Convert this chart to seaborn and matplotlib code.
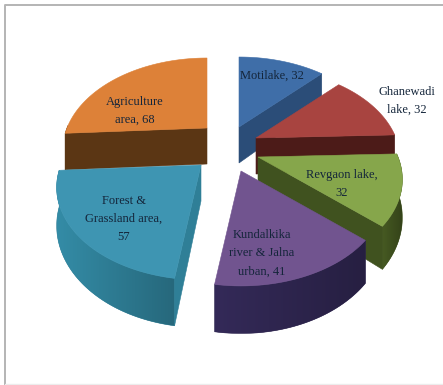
import numpy as np
import matplotlib
matplotlib.use("Agg")
import matplotlib.pyplot as plt
from matplotlib.colors import to_rgb
from matplotlib.patches import Polygon
import seaborn as sns

# Land-use classes and their values, clockwise from twelve o'clock
categories = ["Motilake", "Ghanewadi\nlake", "Revgaon lake,\n", "Kundalkika\nriver & Jalna\nurban",
              "Forest &\nGrassland area,\n", "Agriculture\narea"]
values = [32, 32, 32, 41, 57, 68]
top_colors = ["#3f6ea8", "#a84440", "#86a64b", "#71548f", "#3e95b2", "#dd8138"]
wall_colors = ["#2b4d78", "#4c1b18", "#40521f", "#2f2650", "#2f7f97", "#5b3614"]

# Pie geometry, in pixels of the 443x385 canvas
CENTER = (230.0, 150.0)
RX, RY = 140.0, 87.0        # radii on the horizontal through the centre
TILT = 0.243                # perspective strength: far edge shrinks, near edge grows
DEPTH = 36.0                # extrusion at the centre line
PULL = [(9, -23), (26, -12), (28, 7), (11, 21), (-29, 15), (-23, -22)]  # slice explosion
LABEL_XY = [(272, 76), (407, 101), (342, 184), (262, 253), (124, 219), (135, 111)]
PAINT_ORDER = [5, 0, 1, 2, 4, 3]

sns.set_theme(style="white", rc={"font.family": ["Liberation Serif", "DejaVu Serif"]})
fig, ax = plt.subplots(figsize=(4.43, 3.85), dpi=100)
ax.set_position([0, 0, 1, 1])
ax.axis("off")
sns.despine(ax=ax, left=True, bottom=True)

# Chart-area frame: darker on the top and left, almost gone at the bottom
ax.plot([5, 5, 443], [385, 5, 5], color="#b4b4b4", lw=1.4, solid_capstyle="butt")
ax.plot([5, 443], [383.5, 383.5], color="#ececec", lw=1.0)


def project(theta, apex):
    """Map an angle on the unit circle to canvas pixels, with perspective."""
    u, v = np.cos(theta), np.sin(theta)
    s = 1.0 / (1.0 + TILT * v)
    return apex[0] + RX * u * s, apex[1] - RY * v * s


def wall_drop(theta):
    return DEPTH / (1.0 + TILT * np.sin(theta))


def cut_is_visible(apex, edge, inner):
    """A radial face shows when the extrusion points away from the slice interior."""
    ex, ey = edge[0] - apex[0], edge[1] - apex[1]
    mx, my = inner[0] - apex[0], inner[1] - apex[1]
    return (ex * my - ey * mx) * ex < 0


total = sum(values)
edges = np.deg2rad(90.0 - 360.0 * np.cumsum([0] + values) / total)

for i in PAINT_ORDER:
    z = 2 + PAINT_ORDER.index(i)
    mid = (edges[i] + edges[i + 1]) / 2
    apex = (CENTER[0] + PULL[i][0], CENTER[1] + PULL[i][1])
    arc = np.linspace(edges[i], edges[i + 1], 90)
    px, py = project(arc, apex)
    drops = wall_drop(arc)
    wall = wall_colors[i]
    inner = project(mid, apex)

    # Radial cut faces that turn toward the viewer
    for k in (0, -1):
        if cut_is_visible(apex, (px[k], py[k]), inner):
            ax.add_patch(Polygon([apex, (px[k], py[k]), (px[k], py[k] + drops[k]),
                                  (apex[0], apex[1] + wall_drop(0.0))],
                                 closed=True, fc=wall, ec=wall, lw=0.4, zorder=z + 0.1))

    # Outer rim on the near half only, with a soft left-to-right shading
    near = np.sin(arc) < 0.04
    if near.sum() > 1:
        rx, ry, rd = px[near], py[near], drops[near]
        rim_pts = list(zip(rx, ry)) + list(zip(rx[::-1], (ry + rd)[::-1]))
        rim = Polygon(rim_pts, closed=True, fc=wall, ec=wall, lw=0.4, zorder=z)
        ax.add_patch(rim)
        ramp = np.linspace(1.10, 0.82, 64)[None, :, None] * np.array(to_rgb(wall))[None, None, :]
        shade = ax.imshow(np.clip(ramp, 0, 1), extent=(rx.min(), rx.max(), (ry + rd).max(), ry.min()),
                          aspect="auto", zorder=z + 0.05, interpolation="bilinear")
        shade.set_clip_path(rim)

    # Top face
    ax.add_patch(Polygon([apex] + list(zip(px, py)), closed=True, fc=top_colors[i],
                         ec=top_colors[i], lw=0.4, zorder=z + 0.2))

ax.set_xlim(0, 443)
ax.set_ylim(385, 0)
ax.set_aspect("auto")

for name, value, (x, y) in zip(categories, values, LABEL_XY):
    sep = "" if name.endswith("\n") else ", "
    ax.text(x, y, f"{name}{sep}{value}", ha="center", va="center", fontsize=9.0,
            color="#14253a", linespacing=1.7, zorder=20)

fig.savefig("out.png", dpi=100)
